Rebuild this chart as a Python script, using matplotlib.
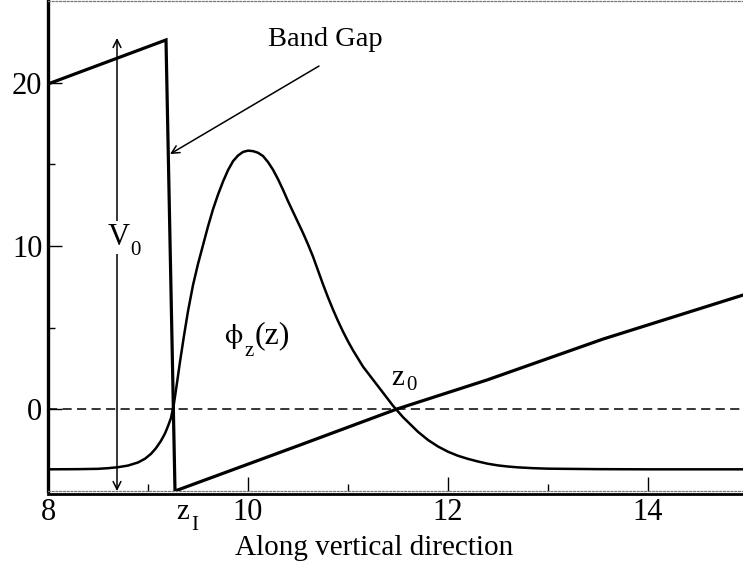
import matplotlib
matplotlib.use("Agg")
import matplotlib.pyplot as plt
from matplotlib.transforms import offset_copy

plt.rcParams["font.family"] = ["Liberation Serif", "DejaVu Serif"]
plt.rcParams["mathtext.fontset"] = "stix"

W, H = 743, 567

# Conduction band edge (oxide side, drop at the interface, field region)
band_x = [8.0, 9.18, 9.27, 10.52, 11.49, 12.39, 13.55, 14.95]
band_y = [19.94, 22.64, -5.03, -2.21, 0.0, 1.78, 4.29, 6.99]

# Wavefunction phi_z(z)
phi_x = [8.00, 8.30, 8.50, 8.60, 8.70, 8.80, 8.90, 8.97, 9.03, 9.08, 9.13, 9.17,
         9.20, 9.23, 9.26, 9.29, 9.32, 9.36, 9.40, 9.45, 9.50, 9.55, 9.60, 9.65,
         9.70, 9.75, 9.80, 9.85, 9.90, 9.95, 10.00, 10.05, 10.10, 10.15, 10.20,
         10.25, 10.30, 10.35, 10.40, 10.45, 10.50, 10.55, 10.60, 10.65, 10.70,
         10.75, 10.80, 10.85, 10.90, 10.95, 11.00, 11.05, 11.10, 11.15, 11.20,
         11.25, 11.30, 11.35, 11.40, 11.45, 11.50, 11.55, 11.60, 11.65, 11.70,
         11.75, 11.80, 11.85, 11.90, 12.00, 12.10, 12.20, 12.30, 12.40, 12.50,
         12.60, 12.70, 12.85, 13.00, 13.50, 14.00, 14.95]
phi_y = [-3.70, -3.69, -3.67, -3.63, -3.57, -3.47, -3.28, -3.05, -2.75, -2.40, -1.95, -1.50,
         -1.05, -0.55, 0.35, 1.60, 2.90, 4.50, 6.00, 7.60, 8.90, 10.05, 11.20, 12.25,
         13.15, 13.95, 14.65, 15.20, 15.55, 15.77, 15.85, 15.82, 15.72, 15.52, 15.15,
         14.68, 14.10, 13.45, 12.75, 12.10, 11.45, 10.80, 10.10, 9.35, 8.50,
         7.65, 6.85, 6.10, 5.40, 4.75, 4.15, 3.60, 3.10, 2.60, 2.20,
         1.80, 1.40, 1.00, 0.60, 0.20, -0.15, -0.50, -0.80, -1.10, -1.40,
         -1.65, -1.90, -2.10, -2.30, -2.62, -2.87, -3.06, -3.22, -3.36, -3.46,
         -3.53, -3.58, -3.63, -3.66, -3.69, -3.70, -3.70]

x_major = [8, 10, 12, 14]
x_minor = [9, 11, 13]
y_major = [0, 10, 20]
y_minor = [5, 15]

v0_x = 8.69
v0_top = 22.76
v0_bottom = -5.03

fig = plt.figure(figsize=(W / 100, H / 100), dpi=100)
ax = fig.add_axes([48 / W, 1 - 491 / H, 1 - 48 / W, 490 / H])
ax.set_xlim(8, 14.95)
ax.set_ylim(-5.03, 25.03)

ax.axhline(0, color="black", lw=1.1, dashes=(6, 3.5), zorder=1)
ax.plot(band_x, band_y, color="black", lw=2.3, solid_joinstyle="miter", zorder=3)
ax.plot(phi_x, phi_y, color="black", lw=1.8, zorder=3)

ax.annotate("", xy=(v0_x, v0_bottom), xytext=(v0_x, v0_top),
            arrowprops=dict(arrowstyle="<->", lw=1.1, color="black",
                            shrinkA=0, shrinkB=0, mutation_scale=14),
            zorder=2)
ax.annotate("", xy=(9.22, 15.64), xytext=(10.71, 21.04),
            arrowprops=dict(arrowstyle="->", lw=1.1, color="black",
                            shrinkA=0, shrinkB=0, mutation_scale=14),
            zorder=2)

fs = 21
sub = 15


def label(xp, yp, s, size, **kw):
    """Place text with its left baseline at pixel (xp, yp) from the top-left."""
    fig.text(xp / W, 1 - yp / H, s, fontsize=size, ha="left", va="baseline", **kw)


ax.text(10.77, 22.64, "Band Gap", fontsize=20.5, ha="center", va="center")

white = dict(facecolor="white", edgecolor="none", pad=1.5)
label(108, 245, "V", 22, bbox=white)
label(130, 255, "0", sub, bbox=white)

label(224, 343, r"$\mathrm{\phi}$", fs)
label(245, 356, "z", sub)
label(255, 343, "(z)", 23)

label(391, 385, "z", fs)
label(406, 390, "0", sub)

label(176, 519, "z", fs)
label(191, 530, "I", sub)

ax.set_xticks(x_major)
ax.set_xticks(x_minor, minor=True)
ax.set_yticks(y_major)
ax.set_yticks(y_minor, minor=True)
ax.tick_params(which="both", direction="in", top=False, right=False,
               labelsize=22, width=1.0, color="black")
ax.tick_params(which="major", length=10)
ax.tick_params(which="minor", length=5)
ax.tick_params(axis="x", pad=5)
ax.tick_params(axis="y", pad=4)

ax.spines["right"].set_visible(False)
ax.spines["left"].set_linewidth(2.4)
for side in ("top", "bottom"):
    ax.spines[side].set_linewidth(0.9)
    ax.spines[side].set_linestyle((0, (1.5, 1.5)))
    ax.spines[side].set_color("#777777")

# heavy baseline just under the dotted frame edge
base_tr = offset_copy(ax.transAxes, fig=fig, x=0, y=-3, units="dots")
ax.plot([0, 1], [0, 0], transform=base_tr, color="black", lw=2.0,
        clip_on=False, zorder=4)

fig.text(374 / W, 1 - 555 / H, "Along vertical direction", fontsize=fs,
         ha="center", va="baseline")

fig.savefig("out.png", dpi=100)
